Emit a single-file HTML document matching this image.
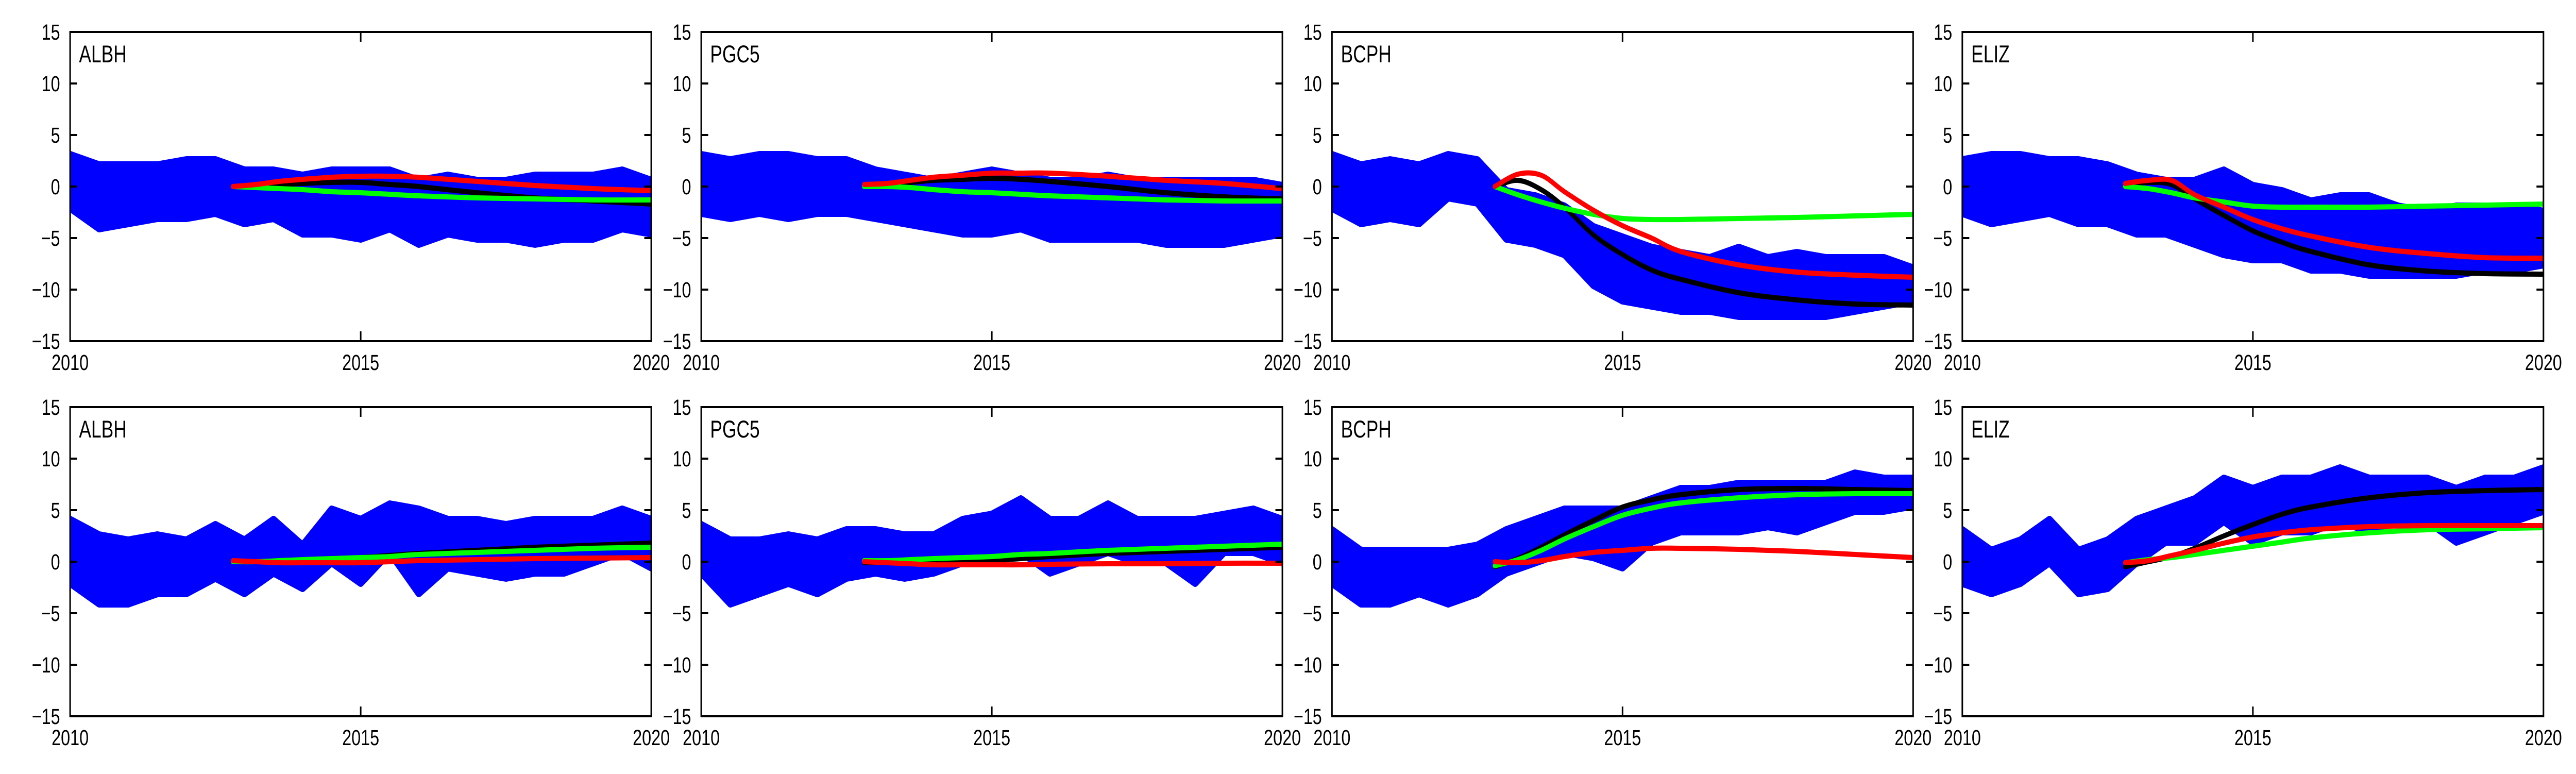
<!DOCTYPE html>
<html><head><meta charset="utf-8"><style>
html,body{margin:0;padding:0;background:#fff;overflow:hidden;width:100vw;height:100vh;}
svg{display:block;width:100vw;height:100vh;font-family:"Liberation Sans",Arial,sans-serif;}
</style></head><body>
<svg id="chart" viewBox="0 0 6649 1502" preserveAspectRatio="none" xmlns="http://www.w3.org/2000/svg"></svg>
<script>
// ---- data ----
const stations = ["ALBH","PGC5","BCPH","ELIZ","ALBH","PGC5","BCPH","ELIZ"];
const envTimes = [2010,2010.5,2011,2011.5,2012,2012.5,2013,2013.5,2014,2014.5,2015,2015.5,2016,2016.5,2017,2017.5,2018,2018.5,2019,2019.5,2020];
const curveTimes = [2012.8,2013.2,2013.6,2014.0,2014.5,2015.0,2015.5,2016.0,2017.0,2018.0,2019.0,2020.0];
const xTicks = [2010,2015,2020];
const yTicks = [-15,-10,-5,0,5,10,15];

const upper0 = [3,2,2,2,2.5,2.5,1.5,1.5,1,1.5,1.5,1.5,0.5,1,0.5,0.5,1,1,1,1.5,0.5];
const lower0 = [-2,-4,-3.5,-3,-3,-2.5,-3.5,-3,-4.5,-4.5,-5,-4,-5.5,-4.5,-5,-5,-5.5,-5,-5,-4,-4.5];
const upper1 = [3,2.5,3,3,2.5,2.5,1.5,1,0.5,1,1.5,1,0.5,0.5,1,0.5,0.5,0.5,0.5,0.5,0];
const lower1 = [-2.5,-3,-2.5,-3,-2.5,-2.5,-3,-3.5,-4,-4.5,-4.5,-4,-5,-5,-5,-5,-5.5,-5.5,-5.5,-5,-4.5];
const upper2 = [3,2,2.5,2,3,2.5,-0.5,-1,-2,-4,-5,-6,-6.5,-7,-6,-7,-6.5,-7,-7,-7,-8];
const lower2 = [-2,-3.5,-3,-3.5,-1,-1.5,-5,-5.5,-6.5,-9.5,-11,-11.5,-12,-12,-12.5,-12.5,-12.5,-12.5,-12,-11.5,-11];
const upper3 = [2.5,3,3,2.5,2.5,2,1,0.5,0.5,1.5,0,-0.5,-1.5,-1,-1,-2,-2.5,-2,-2,-2,-2.5];
const lower3 = [-2.5,-3.5,-3,-2.5,-3.5,-3.5,-4.5,-4.5,-5.5,-6.5,-7,-7,-8,-8,-8.5,-8.5,-8.5,-8.5,-8,-8,-7.5];
const upper4 = [4,2.5,2,2.5,2,3.5,2,4,1.5,5,4,5.5,5,4,4,3.5,4,4,4,5,4];
const lower4 = [-2,-4,-4,-3,-3,-1.5,-3,-1,-2.5,0,-2,1,-3,-0.5,-1,-1.5,-1,-1,0,1,-0.5];
const upper5 = [3.5,2,2,2.5,2,3,3,2.5,2.5,4,4.5,6,4,4,5.5,4,4,4,4.5,5,4];
const lower5 = [-1,-4,-3,-2,-3,-1.5,-1,-1.5,-1,0,1,1,-1,0,1,0,0,-2,1,1,0];
const upper6 = [3,1,1,1,1,1.5,3,4,5,5,5,6,7,7,7.5,7.5,7.5,7.5,8.5,8,8];
const lower6 = [-2,-4,-4,-3,-4,-3,-1,0,1,0.5,-0.5,2,3,3,3,3.5,3,4,5,5,5.5];
const upper7 = [3,1,2,4,1,2,4,5,6,8,7,8,8,9,8,8,8,7,8,8,9];
const lower7 = [-2,-3,-2,0,-3,-2.5,0,2,2,4,2,3,3,4,3,4,4,2,3,4,5];

const black0 = [0,0.1,0.2,0.3,0.4,0.4,0.2,0.0,-0.6,-1.1,-1.4,-1.7];
const green0 = [0,-0.1,-0.2,-0.3,-0.5,-0.6,-0.75,-0.9,-1.1,-1.2,-1.3,-1.3];
const red0   = [0,0.2,0.5,0.7,0.9,1.0,1.0,0.9,0.5,0.1,-0.2,-0.4];
const black1 = [0.1,0.2,0.4,0.6,0.7,0.8,0.7,0.5,0,-0.6,-1.0,-1.2];
const green1 = [0,0,-0.1,-0.3,-0.5,-0.6,-0.75,-0.9,-1.1,-1.3,-1.4,-1.4];
const red1   = [0.2,0.3,0.6,0.9,1.1,1.3,1.3,1.3,1.0,0.6,0.3,-0.2];
const black2 = [0,0.6,-0.3,-2.0,-4.7,-6.6,-8.1,-9.0,-10.3,-11.0,-11.4,-11.5];
const green2 = [0,-0.8,-1.5,-2.1,-2.7,-3.1,-3.2,-3.2,-3.1,-3.0,-2.85,-2.7];
const red2   = [0,1.2,1.1,-0.5,-2.3,-3.8,-5.0,-6.3,-7.6,-8.3,-8.6,-8.8];
const black3 = [0.2,0.4,0.2,-1.2,-2.8,-4.3,-5.4,-6.3,-7.6,-8.2,-8.45,-8.5];
const green3 = [0,-0.2,-0.6,-1.1,-1.5,-1.9,-2.0,-2.0,-2.0,-1.9,-1.8,-1.7];
const red3   = [0.3,0.6,0.6,-0.8,-2.0,-3.2,-4.1,-4.8,-5.9,-6.5,-6.9,-6.95];
const black4 = [0,0,0.1,0.2,0.3,0.4,0.6,0.8,1.1,1.4,1.6,1.8];
const green4 = [0,0,0.1,0.2,0.3,0.4,0.5,0.7,0.9,1.1,1.3,1.4];
const red4   = [0.1,0,-0.1,-0.1,-0.1,-0.1,0,0.1,0.2,0.3,0.35,0.4];
const black5 = [-0.1,-0.1,-0.1,-0.1,0,0.1,0.3,0.5,0.8,1.0,1.2,1.4];
const green5 = [0.1,0.1,0.2,0.3,0.4,0.5,0.7,0.8,1.1,1.3,1.5,1.7];
const red5   = [0,-0.1,-0.2,-0.3,-0.3,-0.3,-0.3,-0.25,-0.2,-0.2,-0.15,-0.15];
const black6 = [-0.5,0.3,1.4,2.6,4.0,5.3,6.0,6.5,7.0,7.1,7.0,6.9];
const green6 = [-0.4,0.2,1.1,2.2,3.4,4.5,5.2,5.7,6.2,6.5,6.6,6.6];
const red6   = [0,-0.1,0.1,0.5,0.9,1.1,1.3,1.3,1.2,1.0,0.7,0.4];
const black7 = [-0.5,0,0.5,1.3,2.5,3.6,4.6,5.3,6.2,6.7,6.9,7.0];
const green7 = [-0.1,0.2,0.4,0.7,1.1,1.5,1.9,2.3,2.8,3.1,3.2,3.3];
const red7   = [-0.1,0.1,0.6,1.1,1.8,2.4,2.8,3.1,3.4,3.5,3.5,3.5];

const uppers=[upper0,upper1,upper2,upper3,upper4,upper5,upper6,upper7];
const lowers=[lower0,lower1,lower2,lower3,lower4,lower5,lower6,lower7];
const blacks=[black0,black1,black2,black3,black4,black5,black6,black7];
const greens=[green0,green1,green2,green3,green4,green5,green6,green7];
const reds=[red0,red1,red2,red3,red4,red5,red6,red7];

// ---- layout ----
const NS="http://www.w3.org/2000/svg";
const svg=document.getElementById('chart');
const colLeft=[181,1810,3438,5065];
const rowTop=[62,790];
const PW=1500, PH=600;
function mk(tag,attrs,parent){const e=document.createElementNS(NS,tag);for(const k in attrs)e.setAttribute(k,attrs[k]);(parent||svg).appendChild(e);return e;}
function smooth(pts){
  let d="M"+pts[0][0].toFixed(1)+","+pts[0][1].toFixed(1);
  for(let i=0;i<pts.length-1;i++){
    const p0=pts[Math.max(0,i-1)],p1=pts[i],p2=pts[i+1],p3=pts[Math.min(pts.length-1,i+2)];
    const c1=[p1[0]+(p2[0]-p0[0])/6,p1[1]+(p2[1]-p0[1])/6];
    const c2=[p2[0]-(p3[0]-p1[0])/6,p2[1]-(p3[1]-p1[1])/6];
    d+=" C"+c1[0].toFixed(1)+","+c1[1].toFixed(1)+" "+c2[0].toFixed(1)+","+c2[1].toFixed(1)+" "+p2[0].toFixed(1)+","+p2[1].toFixed(1);
  }
  return d;
}
const defs=mk('defs',{});
for(let p=0;p<8;p++){
  const L=colLeft[p%4], T=rowTop[Math.floor(p/4)];
  const xs=t=>L+(t-2010)/10*PW;
  const ys=v=>T+(15-v)/30*PH;
  const g=mk('g',{});
  
  
  const cp=mk('clipPath',{id:'clip'+p},defs);
  mk('rect',{x:L,y:T,width:PW,height:PH},cp);
  const plot=mk('g',{'clip-path':'url(#clip'+p+')'},g);
  const up=uppers[p], lo=lowers[p];
  const topPts=envTimes.map((t,i)=>[xs(t),ys(up[i])]);
  const botPts=envTimes.map((t,i)=>[xs(t),ys(lo[i])]).reverse();
  let d="M"+topPts.concat(botPts).map(q=>q[0].toFixed(1)+","+q[1].toFixed(1)).join(" L")+" Z";
  const band=mk('path',{d:d,fill:'#0000ff',stroke:'#0000ff','stroke-width':18,'stroke-linejoin':'round'},plot);
  
  
  const series=[[blacks[p],'#000000','model-black'],[greens[p],'#00ff00','model-green'],[reds[p],'#ff0000','model-red']];
  for(const s of series){
    const pts=curveTimes.map((t,i)=>[xs(t),ys(s[0][i])]);
    const c=mk('path',{d:smooth(pts),fill:'none',stroke:s[1],'stroke-width':10,'stroke-linecap':'round'},plot);
    
    
  }
  const fr=mk('rect',{x:L,y:T,width:PW,height:PH,fill:'none',stroke:'#000','stroke-width':4},g);
  
  
  for(const v of yTicks){
    const y=ys(v);
    if(v>-15&&v<15){
      mk('line',{x1:L,y1:y,x2:L+18,y2:y,stroke:'#000','stroke-width':4},g);
      mk('line',{x1:L+PW,y1:y,x2:L+PW-18,y2:y,stroke:'#000','stroke-width':4},g);
    }
    const tx=mk('text',{x:L-26,y:y+15,'font-size':43,'text-anchor':'end',fill:'#000'},g);
    tx.textContent=(v<0?'\u2212':'')+Math.abs(v);
    
    
  }
  for(const t of xTicks){
    const x=xs(t);
    if(t>2010&&t<2020){
      mk('line',{x1:x,y1:T,x2:x,y2:T+19,stroke:'#000','stroke-width':4},g);
      mk('line',{x1:x,y1:T+PH,x2:x,y2:T+PH-19,stroke:'#000','stroke-width':4},g);
    }
    const tx=mk('text',{x:x,y:T+PH+56,'font-size':43,'text-anchor':'middle',fill:'#000'},g);
    tx.textContent=String(t);
    
    
  }
  const lab=mk('text',{x:L+23,y:T+59,'font-size':47,fill:'#000'},g);
  lab.textContent=stations[p];
  
  
}
</script>
</body></html>
